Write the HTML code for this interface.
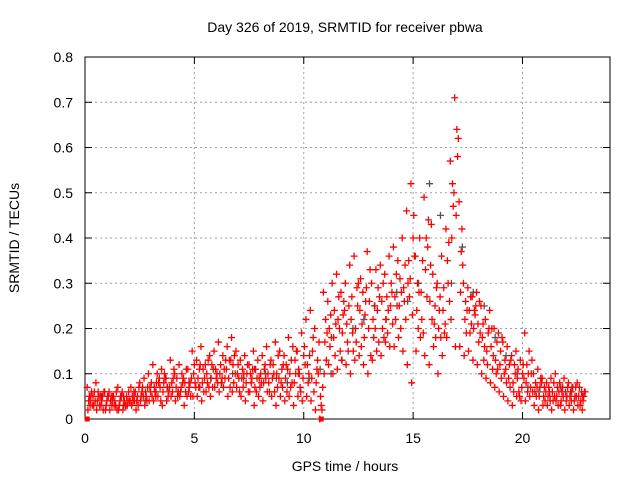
<!DOCTYPE html>
<html><head><meta charset="utf-8"><style>
body{margin:0;background:#fff}
svg{display:block;font-family:"Liberation Sans",Arial,sans-serif}
</style></head><body>
<svg id="chart" width="640" height="480" viewBox="0 0 640 480" xmlns="http://www.w3.org/2000/svg">
<rect width="640" height="480" fill="#fff"/>
<text x="345" y="32" font-size="14" text-anchor="middle">Day 326 of 2019, SRMTID for receiver pbwa</text>
<text x="345" y="471" font-size="14" text-anchor="middle">GPS time / hours</text>
<text transform="translate(19,238) rotate(-90)" font-size="14" text-anchor="middle">SRMTID / TECUs</text>
<g id="grid"></g>
<g id="axes"></g>
<g id="marks"></g>
</svg>
<script>
const xTicks=[0,5,10,15,20];
const yTicks=[0,0.1,0.2,0.3,0.4,0.5,0.6,0.7,0.8];
const yTickLabels=["0","0.1","0.2","0.3","0.4","0.5","0.6","0.7","0.8"];
const seriesStart=0.1, seriesStep=0.2;
const seriesA=[.07,.06,.08,.05,.06,.06,.05,.07,.06,.05,.07,.06,.08,.09,.10,.12,.10,.11,.09,.13,.10,.12,.09,.11,.15,.13,.16,.12,.14,.15,.17,.14,.16,.18,.15,.13,.14,.12,.15,.13,.14,.16,.13,.17,.15,.14,.18,.16,.15,.19,.22,.24,.20,.17,.28,.26,.30,.32,.28,.30,.34,.36,.30,.28,.37,.30,.33,.34,.32,.36,.38,.35,.40,.46,.52,.36,.40,.49,.44,.32,.30,.36,.42,.57,.71,.48,.30,.29,.27,.28,.25,.22,.24,.20,.19,.17,.16,.14,.15,.13,.19,.15,.10,.11,.09,.08,.09,.10,.08,.09,.08,.07,.08,.06];
const seriesB=[.02,.03,.02,.03,.02,.02,.03,.02,.02,.03,.03,.02,.04,.03,.04,.04,.05,.03,.04,.05,.04,.05,.03,.06,.05,.05,.04,.06,.05,.07,.06,.07,.05,.06,.07,.05,.04,.06,.03,.05,.04,.06,.05,.03,.05,.04,.05,.03,.05,.04,.05,.04,.02,.00,.10,.12,.10,.11,.13,.12,.10,.13,.14,.12,.10,.13,.15,.14,.17,.16,.16,.18,.15,.12,.08,.15,.18,.14,.12,.16,.10,.14,.18,.22,.16,.16,.14,.15,.13,.12,.10,.09,.08,.07,.06,.05,.04,.03,.05,.04,.04,.05,.03,.02,.03,.03,.02,.04,.03,.02,.03,.02,.03,.02];
const seriesC=[.04,.05,.04,.04,.03,.04,.04,.03,.05,.04,.05,.04,.05,.06,.07,.07,.08,.06,.07,.08,.07,.06,.08,.07,.10,.09,.08,.10,.09,.11,.10,.11,.09,.12,.10,.09,.08,.10,.07,.09,.08,.10,.09,.10,.08,.09,.10,.08,.11,.09,.12,.09,.08,.05,.17,.20,.18,.22,.19,.21,.22,.20,.24,.18,.20,.22,.24,.26,.22,.25,.27,.25,.29,.30,.23,.24,.28,.33,.26,.21,.20,.24,.35,.40,.45,.28,.22,.24,.20,.21,.18,.15,.16,.13,.12,.10,.09,.08,.09,.07,.08,.07,.06,.05,.05,.05,.06,.05,.04,.06,.05,.04,.05,.04];
const seriesD=[.05,.03,.06,.05,.04,.05,.03,.04,.04,.06,.04,.05,.06,.05,.06,.06,.09,.08,.05,.06,.09,.07,.06,.08,.12,.07,.11,.08,.12,.09,.12,.09,.13,.08,.12,.11,.10,.08,.11,.07,.11,.08,.12,.07,.11,.12,.07,.13,.10,.14,.08,.15,.11,.03,.22,.16,.24,.27,.23,.17,.27,.17,.31,.23,.26,.18,.29,.20,.27,.30,.22,.31,.26,.35,.40,.30,.22,.40,.34,.25,.24,.29,.30,.52,.64,.37,.26,.19,.24,.17,.21,.12,.20,.10,.15,.13,.12,.06,.11,.10,.12,.10,.08,.07,.07,.07,.04,.07,.06,.04,.06,.05,.07,.05];
const seriesE=[.03,.06,.05,.02,.05,.03,.06,.05,.03,.04,.06,.03,.07,.04,.08,.05,.07,.10,.06,.09,.05,.10,.11,.05,.08,.11,.06,.13,.07,.10,.08,.13,.07,.14,.09,.07,.12,.09,.06,.10,.12,.06,.10,.14,.07,.06,.13,.10,.07,.16,.10,.18,.13,.02,.13,.23,.14,.20,.26,.15,.19,.29,.16,.26,.33,.25,.17,.30,.19,.28,.32,.20,.34,.27,.45,.20,.35,.27,.43,.18,.27,.19,.39,.47,.58,.42,.19,.27,.23,.26,.13,.19,.11,.17,.09,.11,.07,.12,.06,.12,.06,.13,.05,.09,.04,.06,.08,.03,.07,.05,.04,.07,.03,.06];
const seriesF=[.05,.04,.03,.06,.05,.05,.02,.05,.03,.04,.04,.07,.05,.07,.05,.08,.04,.09,.07,.11,.06,.08,.05,.09,.07,.12,.09,.07,.11,.08,.09,.11,.13,.10,.06,.10,.06,.11,.09,.08,.09,.12,.06,.09,.12,.11,.08,.15,.06,.12,.14,.06,.10,.07,.19,.18,.21,.15,.24,.25,.15,.25,.21,.29,.14,.20,.27,.18,.24,.21,.25,.28,.22,.31,.36,.28,.19,.38,.22,.29,.18,.21,.26,.50,.62,.34,.24,.21,.25,.19,.16,.20,.14,.11,.18,.08,.13,.10,.05,.09,.10,.06,.07,.08,.06,.04,.05,.06,.05,.07,.07,.05,.04,.06];
const grayStart=0.25, grayStep=0.5;
const seriesGray=[.04,.05,.04,.03,.05,.04,.06,.07,.06,.08,.07,.09,.08,.10,.09,.11,.10,.09,.08,.10,.09,.11,.10,.13,.20,.22,.25,.22,.28,.26,.30,.52,.45,.30,.38,.28,.25,.18,.14,.10,.07,.06,.05,.07,.06,.05];
const zeroTimes=[0.1,10.8];

const NS="http://www.w3.org/2000/svg";
const L=85,R=610,T=57,B=419;
const xMax=24,yMax=0.8;
function sx(v){return L+(R-L)*v/xMax;}
function sy(v){return B-(B-T)*v/yMax;}
function mk(tag,attrs,parent){const e=document.createElementNS(NS,tag);for(const k in attrs)e.setAttribute(k,attrs[k]);parent.appendChild(e);return e;}
const grid=document.getElementById('grid'),axes=document.getElementById('axes'),marks=document.getElementById('marks');
yTicks.forEach((v,i)=>{
  const y=sy(v);
  if(i>0&&i<yTicks.length-1){const g=mk('line',{x1:L,x2:R,y1:y,y2:y,stroke:'#a0a0a0','stroke-dasharray':'2,3'},grid);
  
  }
  mk('line',{x1:L,x2:L+7,y1:y,y2:y,stroke:'#000'},axes);
  mk('line',{x1:R,x2:R-7,y1:y,y2:y,stroke:'#000'},axes);
  const t=mk('text',{x:L-12,y:y+5,'font-size':14,'text-anchor':'end'},axes);
  t.textContent=yTickLabels[i];
  
  
});
xTicks.forEach(v=>{
  const x=sx(v);
  if(v>0){const g=mk('line',{x1:x,x2:x,y1:T,y2:B,stroke:'#a0a0a0','stroke-dasharray':'2,3'},grid);
  
  }
  mk('line',{x1:x,x2:x,y1:B,y2:B-7,stroke:'#000'},axes);
  mk('line',{x1:x,x2:x,y1:T,y2:T+7,stroke:'#000'},axes);
  const t=mk('text',{x:x,y:B+24,'font-size':14,'text-anchor':'middle'},axes);
  t.textContent=String(v);
  
  
});
const frame=mk('rect',{x:L,y:T,width:R-L,height:B-T,fill:'none',stroke:'#000'},axes);


function plus(t,v,color){
  const x=sx(t),y=sy(v);
  const p=mk('path',{d:`M${x-3.5},${y}h7M${x},${y-3.5}v7`,stroke:color,'stroke-width':1.3,fill:'none'},marks);
  
  
}
seriesGray.forEach((v,i)=>plus(grayStart+i*grayStep,v,'#555'));
[seriesA,seriesB,seriesC,seriesD,seriesE,seriesF].forEach((s,k)=>s.forEach((v,i)=>plus(seriesStart+i*seriesStep+k*0.033,v,'#ff0000')));
zeroTimes.forEach(t=>{
  const r=mk('rect',{x:sx(t)-2.5,y:sy(0)-2.5,width:5,height:5,fill:'#ff0000'},marks);
  
  
});
</script>
</body></html>
